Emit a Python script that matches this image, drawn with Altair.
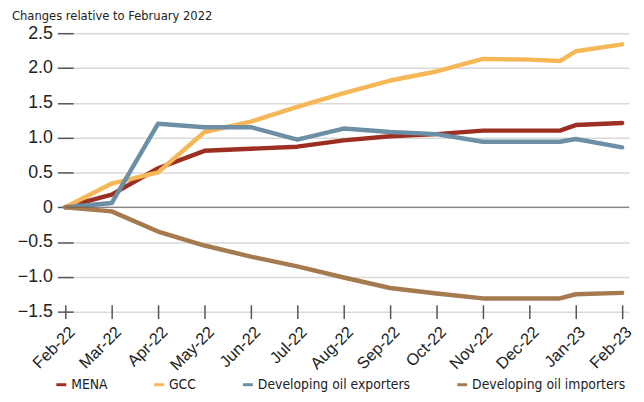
import altair as alt
import pandas as pd

# month index from Feb-22 (0) to Feb-23 (12); 10.66 is the extra point late in Dec-22
months = [0, 1, 2, 3, 4, 5, 6, 7, 8, 9, 10, 10.66, 11, 12]
tick_labels = ["Feb-22", "Mar-22", "Apr-22", "May-22", "Jun-22", "Jul-22", "Aug-22",
               "Sep-22", "Oct-22", "Nov-22", "Dec-22", "Jan-23", "Feb-23"]
y_ticks = [-1.5, -1.0, -0.5, 0.0, 0.5, 1.0, 1.5, 2.0, 2.5]

mena = [0, 0.18, 0.56, 0.81, 0.84, 0.87, 0.96, 1.02, 1.05, 1.10, 1.10, 1.10, 1.18, 1.21]
gcc = [0, 0.34, 0.50, 1.08, 1.23, 1.44, 1.64, 1.82, 1.95, 2.13, 2.12, 2.10, 2.24, 2.34]
oil_exp = [0, 0.06, 1.20, 1.15, 1.15, 0.97, 1.13, 1.08, 1.05, 0.94, 0.94, 0.94, 0.98, 0.86]
oil_imp = [0, -0.06, -0.35, -0.55, -0.71, -0.85, -1.01, -1.16, -1.24, -1.31, -1.31, -1.31, -1.25, -1.23]

names = ["MENA", "GCC", "Developing oil exporters", "Developing oil importers"]
colors = ["#9C2F22", "#F6B757", "#6D8FA5", "#A57A4E"]

rows = []
for name, vals in zip(names, [mena, gcc, oil_exp, oil_imp]):
    for m, v in zip(months, vals):
        rows.append({"month": m, "value": v, "series": name})
df = pd.DataFrame(rows)

label_expr = "[" + ",".join(f"'{t}'" for t in tick_labels) + "][round(datum.value)]"
narrow = "DejaVu Sans Condensed, Roboto, sans-serif"

lines = alt.Chart(df).mark_line(strokeWidth=4.5, strokeCap="round", strokeJoin="round").encode(
    x=alt.X("month:Q", scale=alt.Scale(domain=[0, 12.15], nice=False, zero=False),
            axis=alt.Axis(values=list(range(13)), tickCount=30, labelExpr=label_expr,
                          title=None, grid=False, domain=False, offset=-7, tickSize=14,
                          tickColor="#555", tickWidth=1.5, labelAngle=-45,
                          labelAlign="right", labelBaseline="top", labelFontSize=16.5,
                          labelFont="Liberation Sans", labelColor="#222", labelPadding=5,
                          labelOffset=1, labelOverlap=False)),
    y=alt.Y("value:Q", scale=alt.Scale(domain=[-1.5, 2.5], nice=False),
            axis=alt.Axis(values=y_ticks, tickCount=20,
                          labelExpr="datum.value == 0 ? '0' : format(datum.value, '.1f')",
                          title=None, domain=False, offset=-8, tickSize=16,
                          tickColor="#555", tickWidth=1.5, gridColor="#d9d9d9",
                          gridWidth=1.5, labelFontSize=18, labelFont="Liberation Sans",
                          labelColor="#222", labelPadding=5, labelOverlap=False)),
    color=alt.Color("series:N", scale=alt.Scale(domain=names, range=colors),
                    legend=alt.Legend(orient="none", legendX=-11, legendY=349,
                                      direction="horizontal", title=None,
                                      symbolType="stroke", symbolSize=100,
                                      symbolStrokeWidth=3, columnPadding=41,
                                      labelFont=narrow,
                                      labelFontSize=14, labelColor="#222",
                                      labelOffset=3)),
    detail="series:N",
)

zero = alt.Chart(pd.DataFrame({"value": [0]})).mark_rule(color="#666", strokeWidth=1).encode(
    y="value:Q")

chart = alt.layer(lines, zero).properties(
    width=571, height=282,
    autosize=alt.AutoSizeParams(type="none"),
    padding={"left": 58, "top": 23, "right": 7, "bottom": 89},
    title=alt.TitleParams("Changes relative to February 2022", anchor="start", frame="group",
                          dx=-54, font=narrow, fontSize=13,
                          fontWeight="normal", color="#222", offset=1),
).configure_view(stroke=None)

chart.save("out.html", embed_options={"renderer": "svg", "actions": False})
